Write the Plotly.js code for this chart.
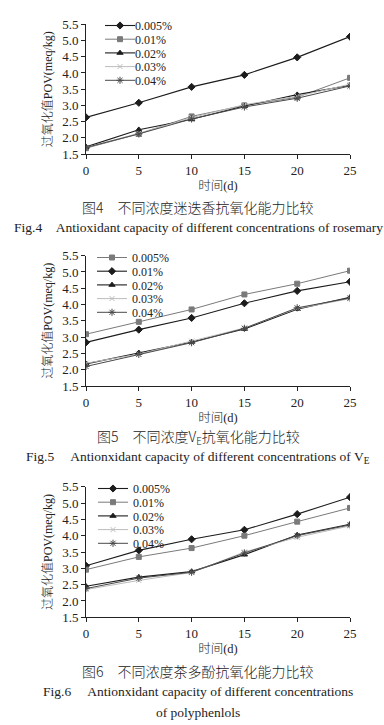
<!DOCTYPE html>
<html><head><meta charset="utf-8">
<script src="https://cdn.plot.ly/plotly-3.0.1.min.js"></script>
<style>html,body{margin:0;padding:0;background:#fff;}#chart{width:384px;height:725px;}</style>
</head><body><div id="chart"></div>
<script>
// ---- data ----
const days = [0, 5, 10, 15, 20, 25];
const seriesNames = ['0.005%', '0.01%', '0.02%', '0.03%', '0.04%'];

// Fig.4 rosemary
const rosemary005 = [2.63, 3.08, 3.57, 3.94, 4.48, 5.12];
const rosemary01  = [1.68, 2.12, 2.66, 3.00, 3.25, 3.85];
const rosemary02  = [1.72, 2.25, 2.57, 2.98, 3.33, 3.62];
const rosemary03  = [1.70, 2.14, 2.62, 3.02, 3.28, 3.65];
const rosemary04  = [1.70, 2.12, 2.58, 2.95, 3.22, 3.60];

// Fig.5 VE
const ve005 = [3.09, 3.47, 3.85, 4.31, 4.64, 5.04];
const ve01  = [2.84, 3.23, 3.59, 4.04, 4.42, 4.70];
const ve02  = [2.18, 2.52, 2.85, 3.25, 3.86, 4.22];
const ve03  = [2.20, 2.48, 2.88, 3.28, 3.88, 4.18];
const ve04  = [2.10, 2.47, 2.83, 3.27, 3.90, 4.20];

// Fig.6 polyphenols
const tp005 = [3.08, 3.55, 3.89, 4.18, 4.66, 5.18];
const tp01  = [2.96, 3.35, 3.62, 4.00, 4.43, 4.85];
const tp02  = [2.45, 2.73, 2.90, 3.42, 4.02, 4.35];
const tp03  = [2.35, 2.63, 2.87, 3.50, 3.95, 4.30];
const tp04  = [2.38, 2.70, 2.88, 3.47, 4.00, 4.33];

const yTitle = '过氧化值POV(meq/kg)';
const xTitle = '时间(d)';
const captionsCN = ['图4　不同浓度迷迭香抗氧化能力比较', '图5　不同浓度V<sub>E</sub>抗氧化能力比较', '图6　不同浓度茶多酚抗氧化能力比较'];
const captionsEN = [['Fig.4　Antioxidant capacity of different concentrations of rosemary'],
                    ['Fig.5　 Antionxidant capacity of different concentrations of V<sub>E</sub>'],
                    ['Fig.6　 Antionxidant capacity of different concentrations', 'of polyphenlols']];

// ---- styles ----
const ST = {
  dia:  {color: '#1c1c1c', symbol: 'diamond', size: 5.5, w: 1.1},
  sq:   {color: '#7a7a7a', symbol: 'square', size: 5, w: 1},
  tri:  {color: '#1c1c1c', symbol: 'triangle-up', size: 5.5, w: 1.1},
  xx:   {color: '#bcbcbc', symbol: 'x-thin-open', size: 5, w: 1},
  ast:  {color: '#4a4a4a', symbol: 'asterisk-open', size: 6, w: 1}
};
const charts = [
  {data: [rosemary005, rosemary01, rosemary02, rosemary03, rosemary04], styles: [ST.dia, ST.sq, ST.tri, ST.xx, ST.ast]},
  {data: [ve005, ve01, ve02, ve03, ve04], styles: [ST.sq, ST.dia, ST.tri, ST.xx, ST.ast]},
  {data: [tp005, tp01, tp02, tp03, tp04], styles: [ST.dia, ST.sq, ST.tri, ST.xx, ST.ast]}
];

const W = 384, H = 725;
const FONT = '"Liberation Serif", "Noto Sans CJK SC", serif';
const px2x = p => p / W;
const px2y = p => 1 - p / H;

// plot geometry (pixels)
const xLeft = 86, xRight = 350;
const yTopPx = [24.3, 255.7, 486.7];
const yBotPx = [154, 386, 617.3];
const legendTopPx = [11, 243, 474];
const legendLeftPx = [100, 92, 93];
const cnPx = [207, 437, 671];
const enPx = [[227], [457], [691, 712]];

const traces = [];
const layout = {
  width: W, height: H,
  margin: {l: 0, r: 0, t: 0, b: 0},
  paper_bgcolor: '#fff', plot_bgcolor: 'rgba(0,0,0,0)',
  font: {family: FONT, size: 12, color: '#222'},
  showlegend: true,
  annotations: []
};

charts.forEach((c, i) => {
  const n = i === 0 ? '' : String(i + 1);
  const xa = 'x' + n, ya = 'y' + n;
  const leg = i === 0 ? 'legend' : 'legend' + (i + 1);
  c.data.forEach((vals, k) => {
    const s = c.styles[k];
    traces.push({
      type: 'scatter', mode: 'lines+markers',
      x: days, y: vals, name: seriesNames[k],
      xaxis: xa, yaxis: ya, legend: leg,
      line: {color: s.color, width: s.w},
      marker: {symbol: s.symbol, size: s.size, color: s.color, line: {color: s.color, width: 1}}
    });
  });
  layout['xaxis' + n] = {
    domain: [px2x(xLeft), px2x(xRight)], anchor: ya,
    range: [0, 25], tickvals: days, ticks: 'outside', ticklen: 4, tickcolor: '#222',
    showline: true, linecolor: '#222', linewidth: 1, showgrid: false, zeroline: false,
    tickfont: {family: FONT, size: 13, color: '#222'},
    title: {text: xTitle, font: {family: FONT, size: 12.5, color: '#222', weight: 300}, standoff: 4}
  };
  layout['yaxis' + n] = {
    domain: [px2y(yBotPx[i]), px2y(yTopPx[i])], anchor: xa,
    range: [1.5, 5.5], dtick: 0.5, tick0: 1.5, tickformat: '.1f', ticks: 'outside', ticklen: 4, tickcolor: '#222',
    showline: true, linecolor: '#222', linewidth: 1, showgrid: false, zeroline: false,
    tickfont: {family: FONT, size: 13, color: '#222'},
    title: {text: yTitle, font: {family: FONT, size: 12, color: '#222', weight: 300}, standoff: 6}
  };
  layout[leg] = {
    x: px2x(legendLeftPx[i]), xanchor: 'left',
    y: px2y(legendTopPx[i]), yanchor: 'top',
    bgcolor: 'rgba(0,0,0,0)', borderwidth: 0,
    font: {family: FONT, size: 12, color: '#222'},
    itemwidth: 30, tracegroupgap: 0
  };
  layout.annotations.push({
    xref: 'paper', yref: 'paper', x: px2x(198), y: px2y(cnPx[i]),
    xanchor: 'center', yanchor: 'middle', showarrow: false,
    text: captionsCN[i], font: {family: '"Noto Sans CJK SC", sans-serif', size: 14, color: '#222', weight: 300}
  });
  captionsEN[i].forEach((line, j) => {
    layout.annotations.push({
      xref: 'paper', yref: 'paper', x: px2x(198), y: px2y(enPx[i][j]),
      xanchor: 'center', yanchor: 'middle', showarrow: false,
      text: line, font: {family: FONT, size: 13.5, color: '#222'}
    });
  });
});

Plotly.newPlot('chart', traces, layout, {displayModeBar: false, staticPlot: true}).then(gd => {
  // compact legend rows like the original figure
  ['legend', 'legend2', 'legend3'].forEach(cls => {
    const g = gd.querySelector('g.' + cls);
    if (!g) return;
    const items = g.querySelectorAll('g.traces');
    let x0 = null, y0 = null;
    items.forEach((it, k) => {
      const m = /translate\(\s*([-\d.e]+)[ ,]+([-\d.e]+)\s*\)/.exec(it.getAttribute('transform') || '');
      if (!m) return;
      if (y0 === null) { x0 = +m[1]; y0 = +m[2]; }
      it.setAttribute('transform', 'translate(' + x0 + ',' + (y0 + k * 13.7) + ')');
      const t = it.querySelector('text.legendtext');
      if (t) t.setAttribute('x', 35);
    });
  });
});
</script>
</body></html>
